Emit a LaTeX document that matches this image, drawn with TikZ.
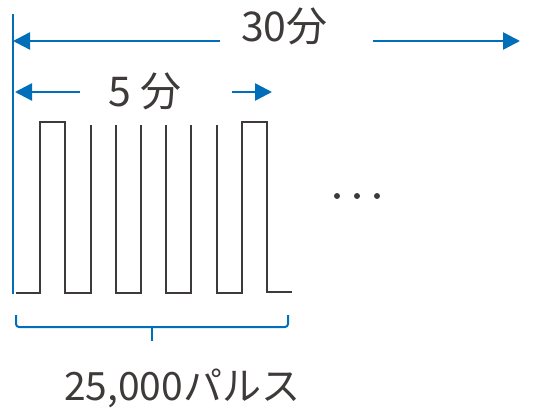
\documentclass[tikz,border=0pt]{standalone}
\usepackage{fontspec}
\setmainfont{Noto Sans CJK JP}
\usetikzlibrary{arrows.meta}
\definecolor{blu}{RGB}{0,110,184}
\definecolor{ink}{RGB}{62,58,57}
\begin{document}
\begin{tikzpicture}[x=1pt,y=-1pt,
  dim/.style={blu, line width=2.5pt, -{Triangle[length=17pt,width=17pt]}},
  lbl/.style={text=ink, inner sep=0pt, anchor=base west},
  wave/.style={ink, line width=2pt},
  dot/.style={fill=ink, draw=none}]
\useasboundingbox (0,0) rectangle (541,409);
% blue reference line
\coordinate (vtop) at (13,14);
\coordinate (vbot) at (13,294);
\draw[blu, line width=2pt] (vtop) -- (vbot);
% 30 min
\node[lbl, font=\fontsize{41}{41}\selectfont] (t30) at (241,42) {30分};
\coordinate (a30l1) at (220,41);
\coordinate (a30l2) at (13,41);
\coordinate (a30r1) at (373,41);
\coordinate (a30r2) at (520,41);
\draw[dim] (a30l1) -- (a30l2);
\draw[dim] (a30r1) -- (a30r2);
% 5 min
\node[lbl, font=\fontsize{41}{41}\selectfont] (t5) at (108,107) {5 分};
\coordinate (a5l1) at (80,92);
\coordinate (a5l2) at (15,92);
\coordinate (a5r1) at (232,92);
\coordinate (a5r2) at (272,92);
\draw[dim] (a5l1) -- (a5l2);
\draw[dim] (a5r1) -- (a5r2);
% waveform
\draw[wave] (16,292.5) -- (40,292.5) -- (40,122) -- (64.5,122) -- (64.5,292.5) -- (90.7,292.5) -- (90.7,125);
\draw[wave] (116,125) -- (116,292.5) -- (140.7,292.5) -- (140.7,125);
\draw[wave] (166,125) -- (166,292.5) -- (191,292.5) -- (191,125);
\draw[wave] (216.7,125) -- (216.7,292.5) -- (241.7,292.5) -- (241.7,122) -- (266.7,122) -- (266.7,292) -- (292,292);
% dots
\fill[dot] (337,196) circle (3pt) (357,196) circle (3pt) (377,196) circle (3pt);
% brace
\draw[blu, line width=2pt, rounded corners=3pt] (16,315) -- (16,327) -- (288,327) -- (288,315);
\draw[blu, line width=2pt] (152,327) -- (152,341);
% pulses label
\node[lbl, font=\fontsize{39}{39}\selectfont] (t25) at (64,400) {25,000パルス};
\end{tikzpicture}
\end{document}
